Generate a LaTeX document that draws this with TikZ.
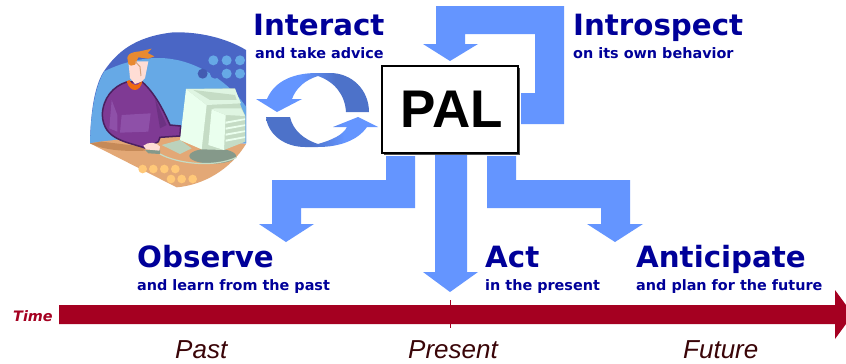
\documentclass[tikz,border=0pt]{standalone}
\usepackage{fontspec}
\setmainfont{DejaVu Sans}
\newfontfamily\italfont{Liberation Sans}
\newfontfamily\palfont{Liberation Sans}
\definecolor{flow}{HTML}{6495FF}
\definecolor{flowdark}{HTML}{4D72C9}
\definecolor{navy}{HTML}{000099}
\definecolor{timered}{HTML}{A50021}
\definecolor{era}{HTML}{3A0508}
\definecolor{blobdark}{HTML}{4A66C5}
\definecolor{bloblight}{HTML}{66A9E6}
\definecolor{tabletop}{HTML}{E3A876}
\definecolor{tableshade}{HTML}{C68A58}
\definecolor{tabledot}{HTML}{FFC878}
\definecolor{sweater}{HTML}{7F3A94}
\definecolor{sweaterlight}{HTML}{8E50A8}
\definecolor{sweaterline}{HTML}{4A2060}
\definecolor{skin}{HTML}{FFDDD5}
\definecolor{hair}{HTML}{E88A30}
\definecolor{collar}{HTML}{F06A10}
\definecolor{pcfront}{HTML}{EAFFEE}
\definecolor{pcside}{HTML}{C5DCC5}
\definecolor{pcbase}{HTML}{85998A}
\pgfdeclarehorizontalshading{toDark}{100bp}{color(0bp)=(flow);color(45bp)=(flow);color(60bp)=(flowdark);color(100bp)=(flowdark)}
\pgfdeclarehorizontalshading{toLight}{100bp}{color(0bp)=(flowdark);color(45bp)=(flowdark);color(60bp)=(flow);color(100bp)=(flow)}
\tikzset{
  x=1pt,y=-1pt,
  head/.style={anchor=base west,inner sep=0pt,text=navy,font=\fontsize{29.3}{32}\selectfont\bfseries},
  sub/.style={anchor=base west,inner sep=0pt,text=navy,font=\fontsize{14.4}{17}\selectfont\bfseries},
  era/.style={anchor=base west,inner sep=0pt,text=era,font=\italfont\itshape\fontsize{26}{30}\selectfont},
  blockarrow/.style={fill=flow},
  palbox/.style={draw=black,line width=1.4pt,fill=white,minimum width=136pt,minimum height=87pt,inner sep=0pt,font=\palfont\bfseries\fontsize{53}{56}\selectfont},
}
\begin{document}
\begin{tikzpicture}
\useasboundingbox (0,0) rectangle (846,364);
\fill[white] (0,0) rectangle (846,364);
% illustration
\begin{scope}[shift={(60,0)},scale=1/3]
\begin{scope}
\clip (60,60) rectangle (558,600);
\fill[blobdark] (90,430) .. controls (92,330) and (105,250) .. (135,209) .. controls (170,160) and (220,110) .. (340,97) .. controls (420,95) and (500,115) .. (558,150) -- (558,430) -- cycle;
\fill[bloblight] (90,430) .. controls (92,340) and (105,260) .. (133,214) .. controls (190,185) and (270,165) .. (340,178) .. controls (420,190) and (510,250) .. (558,320) -- (558,430) -- cycle;
\foreach \cx/\cy in {460/181,500/181,540/181,500/221,540/221} \fill[bloblight] (\cx,\cy) circle[radius=15];
\fill[blobdark!90!black] (428,221) circle[radius=15];
\fill[blobdark] (465,221) circle[radius=15];
\fill[tabletop] (90,430) -- (350,562) .. controls (430,555) and (510,510) .. (558,432) -- (300,405) -- (120,425) -- cycle;
\fill[tableshade] (90,430) -- (125,425) -- (250,440) -- (255,452) .. controls (190,455) and (130,450) .. (90,430) -- cycle;
\foreach \cx/\cy in {248/507,280/507,313/507,346/507,333/537,365/537,398/537} \fill[tabledot] (\cx,\cy) circle[radius=13];
\end{scope}
\draw[sweaterline,line width=1.5pt,fill=sweater] (127,345) .. controls (128,295) and (160,258) .. (200,246) -- (247,246) .. controls (285,280) and (310,330) .. (330,375) -- (362,378) -- (360,408) -- (300,412) -- (295,425) -- (258,445) .. controls (200,425) and (130,420) .. (127,345) -- cycle;
\fill[sweaterlight] (185,345) -- (272,340) -- (265,395) -- (180,398) -- cycle;
\fill[sweaterlight] (155,300) -- (172,345) -- (172,395) -- (148,385) -- cycle;
\fill[sweaterline!35!sweater] (285,295) -- (320,375) -- (300,385) -- cycle;
\fill[skin] (205,184) -- (265,184) -- (255,234) -- (245,245) -- (225,252) -- (210,234) -- cycle;
\fill[collar] (200,244) .. controls (205,262) and (215,270) .. (225,270) .. controls (235,270) and (245,258) .. (247,244) -- (240,248) .. controls (235,258) and (215,258) .. (208,240) -- cycle;
\fill[hair] (202,174) .. controls (203,165) and (208,157) .. (240,154) -- (275,146) -- (263,159) -- (283,169) -- (265,176) -- (235,172) -- (225,194) -- (213,197) -- (205,192) -- cycle;
\draw[tableshade!70!skin,line width=1pt] (226,185) -- (240,200) -- (243,228);
\fill[pcbase] (458,468) ellipse[x radius=70,y radius=23];
\fill[pcside!85!pcbase] (305,435) -- (360,420) -- (395,445) -- (360,462) -- cycle;
\fill[pcside] (378,267) -- (525,265) -- (543,320) -- (556,348) -- (556,425) -- (492,450) -- (425,448) -- cycle;
\fill[pcfront] (378,267) -- (360,420) -- (425,448) -- (440,315) -- cycle;
\fill[pcfront!70!pcside] (378,267) -- (525,267) -- (543,310) -- (440,315) -- cycle;
\fill[pcside] (400,270) -- (525,285) -- (530,300) -- (450,300) -- cycle;
\fill[pcfront] (455,328) -- (445,435) -- (492,450) -- (497,345) -- cycle;
\fill[pcfront!70!pcside] (455,328) -- (465,325) -- (543,325) -- (555,348) -- (497,345) -- cycle;
\foreach \sy in {365,383,401,419} \fill[pcfront] (497,\sy) -- (555,\sy-10) -- (555,\sy-5) -- (497,\sy+6) -- cycle;
\fill[pcbase] (255,450) -- (300,450) -- (300,462) -- (265,460) -- cycle;
\fill[skin] (250,437) .. controls (265,425) and (290,425) .. (300,440) -- (298,452) -- (258,448) -- cycle;
\draw[pcside,line width=1.2pt] (300,462) .. controls (350,490) and (460,505) .. (530,472);
\end{scope}
% cycle arrows
\path[shading=toDark] (256,99) -- (267,99) .. controls (275,80) and (295,73) .. (317,73) -- (330,73) .. controls (352,73) and (369,90) .. (369,112) -- (346,112) .. controls (345,95) and (335,82) .. (318,76) .. controls (305,80) and (296,88) .. (292,99) -- (302,99) -- (277,112) -- cycle;
\path[shading=toLight] (266,117) -- (290,117) .. controls (293,130) and (303,139) .. (318,144) .. controls (332,140) and (343,135) .. (347,127) -- (333,127) -- (358,117) -- (378,127) -- (367,127) .. controls (358,140) and (340,147) .. (318,147) -- (305,147) .. controls (285,147) and (268,135) .. (266,117) -- cycle;
% block arrows
\fill[blockarrow] (521,93) -- (535,93) -- (535,34) -- (465,34) -- (465,44) -- (478,44) -- (450,61) -- (423,44) -- (436,44) -- (436,6) -- (564,6) -- (564,124) -- (521,124) -- cycle;
\fill[blockarrow] (386,156) -- (386,180) -- (272,180) -- (272,224) -- (259,224) -- (286,242) -- (314,224) -- (301,224) -- (301,208) -- (415,208) -- (415,156) -- cycle;
\fill[blockarrow] (435,154) -- (435,272) -- (423,272) -- (450,292) -- (478,272) -- (467,272) -- (467,154) -- cycle;
\fill[blockarrow] (487,156) -- (487,208) -- (601,208) -- (601,224) -- (587,224) -- (615,242) -- (643,224) -- (630,224) -- (630,180) -- (516,180) -- (516,156) -- cycle;
% PAL
\fill[black!70] (384,68) rectangle (520,154.5);
\node[palbox] (pal) at (450,109.5) {\hspace{4pt}\raisebox{-4pt}{PAL}};
% time axis
\fill[timered] (59,305) -- (835,305) -- (835,290) -- (846,305) -- (846,324) -- (835,339) -- (835,324) -- (59,324) -- cycle;
\draw[timered,line width=0.8pt] (450,300) -- (450,328);
% labels
\node[head] (interact) at (253,35) {Interact};
\node[sub] (interactsub) at (255,58) {and take advice};
\node[head] (introspect) at (573,35) {Introspect};
\node[sub] (introspectsub) at (573,58) {on its own behavior};
\node[head] (observe) at (137,267) {Observe};
\node[sub] (observesub) at (137,290) {and learn from the past};
\node[head] (act) at (485,267) {Act};
\node[sub] (actsub) at (485,290) {in the present};
\node[head] (anticipate) at (636,267) {Anticipate};
\node[sub] (anticipatesub) at (636,290) {and plan for the future};
\node[anchor=base west,inner sep=0pt,text=timered,font=\fontsize{14.4}{16}\selectfont\bfseries\itshape] (time) at (13,321) {Time};
\node[era] (past) at (175,358) {Past};
\node[era] (present) at (408,358) {Present};
\node[era] (future) at (683,358) {Future};
\end{tikzpicture}
\end{document}
